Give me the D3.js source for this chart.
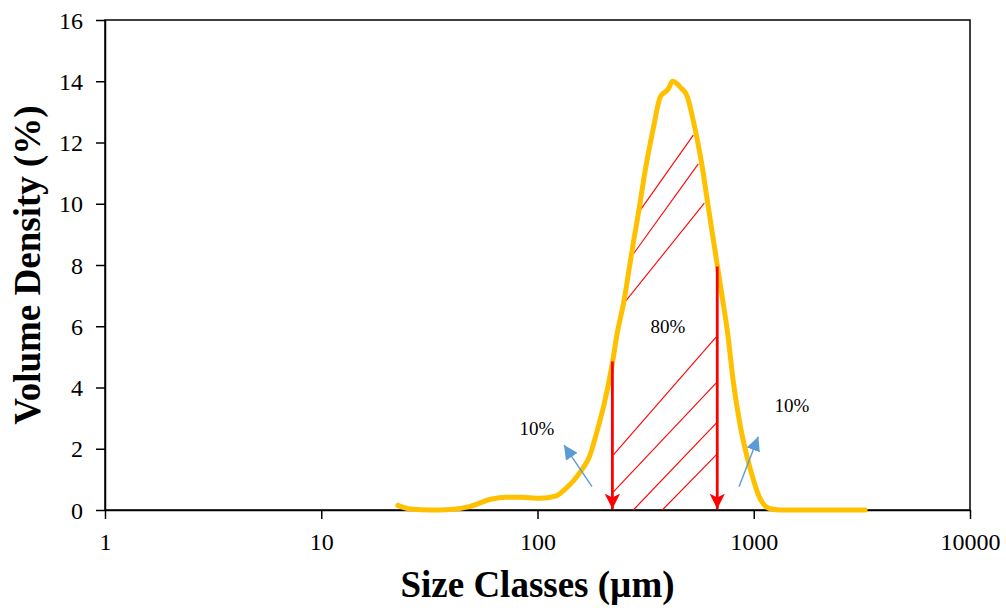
<!DOCTYPE html>
<html>
<head>
<meta charset="utf-8">
<script src="https://d3js.org/d3.v7.min.js"></script>
<style>
  html, body { margin: 0; padding: 0; background: #fff; }
  svg { display: block; }
  text { font-family: "Liberation Serif", "Times New Roman", serif; }
</style>
</head>
<body>
<svg id="chart" width="1006" height="608"></svg>
<script>
// Particle size distribution (volume density, %)
const sizeClasses = [22.6, 25.9, 32.1, 39.6, 49, 60.7, 71.2, 83.4, 103, 121, 135, 146.6, 158, 174, 189, 204, 222, 234, 250, 263, 277, 293, 315, 344, 370, 403, 421, 458, 493, 520, 548, 578, 610, 643, 678, 715, 755, 804, 866, 934, 995, 1050, 1107, 1191, 1325, 1620, 2200, 3273];
const volumeDensity = [0.15, 0.03, 0.0, 0.02, 0.12, 0.35, 0.42, 0.42, 0.38, 0.45, 0.7, 0.95, 1.25, 1.75, 2.6, 3.5, 4.8, 5.8, 6.75, 7.7, 8.7, 9.7, 11.1, 12.5, 13.5, 13.75, 14.0, 13.8, 13.5, 12.85, 12.1, 11.2, 10.1, 9.05, 8.0, 6.95, 5.85, 4.2, 2.75, 1.7, 1.0, 0.5, 0.2, 0.04, 0, 0, 0, 0];

const xTicks = [1, 10, 100, 1000, 10000];
const yTicks = [0, 2, 4, 6, 8, 10, 12, 14, 16];

// D10 / D90 markers: [size, top of arrow]
const d10 = [222, 4.85];
const d90 = [678, 7.95];

// Hatching for the central 80% band: [x1, y1, x2, y2]
const hatchLines = [
  [292.7, 9.70, 525.5, 12.24],
  [277.6, 8.36, 554, 11.30],
  [247, 6.69, 591, 10.02],
  [224.4, 1.80, 671, 5.65],
  [224.4, 0.59, 671, 4.15],
  [277.6, 0.0, 671, 2.84],
  [378, 0.0, 671, 1.80]
];

// Blue pointers: [tailX, tailY, headX, headY]
const pointers = [
  [178.6, 0.76, 132.6, 2.12],
  [855, 0.76, 1050, 2.39]
];

// Percentage annotations: [x, y, text]
const notes = [
  [99.5, 2.68, "10%"],
  [401, 6.0, "80%"],
  [1503, 3.43, "10%"]
];

const svg = d3.select("#chart");
const m = { left: 105, right: 970, top: 20, bottom: 510 };

const x = d3.scaleLog().domain([1, 10000]).range([m.left, m.right]);
const y = d3.scaleLinear().domain([0, 16]).range([m.bottom, m.top]);

// frame
svg.append("rect")
  .attr("x", m.left).attr("y", m.top)
  .attr("width", m.right - m.left).attr("height", m.bottom - m.top)
  .attr("fill", "none").attr("stroke", "#000").attr("stroke-width", 1.5);

// axes
const xAxis = d3.axisBottom(x).tickValues(xTicks).tickFormat(d3.format("d")).tickSize(9).tickSizeOuter(0);
const yAxis = d3.axisLeft(y).tickValues(yTicks).tickSize(9).tickSizeOuter(0);

const gx = svg.append("g").attr("transform", `translate(0,${m.bottom})`).call(xAxis);
const gy = svg.append("g").attr("transform", `translate(${m.left},0)`).call(yAxis);

[gx, gy].forEach(g => {
  g.select(".domain").attr("stroke", "#000").attr("stroke-width", 1.5);
  g.selectAll(".tick line").attr("stroke", "#000").attr("stroke-width", 1.5);
  g.selectAll(".tick text")
    .attr("fill", "#000")
    .style("font-family", "'Liberation Serif', 'Times New Roman', serif")
    .style("font-size", "24px");
});
gx.selectAll(".tick text").attr("y", 40).attr("dy", 0);
gy.selectAll(".tick text").attr("x", -22).attr("dy", "0.34em");

// axis titles
svg.append("text")
  .attr("x", (m.left + m.right) / 2).attr("y", 597)
  .attr("text-anchor", "middle")
  .style("font-size", "37px").style("font-weight", "bold")
  .text("Size Classes (µm)");

svg.append("text")
  .attr("transform", `translate(40,${(m.top + m.bottom) / 2}) rotate(-90)`)
  .attr("text-anchor", "middle")
  .style("font-size", "37px").style("font-weight", "bold")
  .text("Volume Density (%)");

// hatching
svg.append("g").selectAll("line").data(hatchLines).join("line")
  .attr("x1", d => x(d[0])).attr("y1", d => y(d[1]))
  .attr("x2", d => x(d[2])).attr("y2", d => y(d[3]))
  .attr("stroke", "#ff0000").attr("stroke-width", 1.1);

// distribution curve
const pts = sizeClasses.map((s, i) => [s, volumeDensity[i]]);
svg.append("path")
  .datum(pts)
  .attr("fill", "none")
  .attr("stroke", "#ffc000")
  .attr("stroke-width", 5)
  .attr("stroke-linejoin", "round")
  .attr("stroke-linecap", "round")
  .attr("d", d3.line().x(d => x(d[0])).y(d => y(d[1])).curve(d3.curveMonotoneX));

// arrowheads
const defs = svg.append("defs");
defs.append("marker")
  .attr("id", "redHead").attr("viewBox", "0 0 10 10")
  .attr("refX", 10).attr("refY", 5)
  .attr("markerWidth", 5.5).attr("markerHeight", 5.5)
  .attr("markerUnits", "strokeWidth")
  .attr("orient", "auto")
  .append("path").attr("d", "M0,0 L10,5 L0,10 L2.5,5 Z").attr("fill", "#ff0000");

defs.append("marker")
  .attr("id", "blueHead").attr("viewBox", "0 0 10 10")
  .attr("refX", 10).attr("refY", 5)
  .attr("markerWidth", 10).attr("markerHeight", 10)
  .attr("markerUnits", "strokeWidth")
  .attr("orient", "auto")
  .append("path").attr("d", "M0,0 L10,5 L0,10 Z").attr("fill", "#5b9bd5");

// D10 / D90 arrows
svg.append("g").selectAll("line").data([d10, d90]).join("line")
  .attr("x1", d => x(d[0])).attr("y1", d => y(d[1]))
  .attr("x2", d => x(d[0])).attr("y2", y(0) - 1)
  .attr("stroke", "#ff0000").attr("stroke-width", 2.8)
  .attr("marker-end", "url(#redHead)");

// blue pointers
svg.append("g").selectAll("line").data(pointers).join("line")
  .attr("x1", d => x(d[0])).attr("y1", d => y(d[1]))
  .attr("x2", d => x(d[2])).attr("y2", d => y(d[3]))
  .attr("stroke", "#5b9bd5").attr("stroke-width", 1.4)
  .attr("marker-end", "url(#blueHead)");

// annotations
svg.append("g").selectAll("text").data(notes).join("text")
  .attr("x", d => x(d[0])).attr("y", d => y(d[1]))
  .attr("text-anchor", "middle").attr("dy", "0.35em")
  .style("font-size", "19px").attr("fill", "#000")
  .text(d => d[2]);
</script>
</body>
</html>
